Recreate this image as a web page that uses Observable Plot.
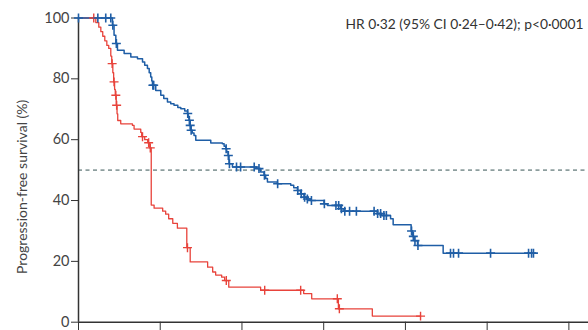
<!DOCTYPE html>
<html>
<head>
<meta charset="utf-8">
<script src="https://cdn.jsdelivr.net/npm/d3@7"></script>
<script src="https://cdn.jsdelivr.net/npm/@observablehq/plot@0.6"></script>
<style>
  html, body { margin: 0; padding: 0; background: #fff; }
  #chart svg { display: block; }
</style>
</head>
<body>
<div id="chart"></div>
<script>
// Experimental arm (blue) Kaplan-Meier steps: time (months), survival (%)
const blueTime = [0,2.49,2.61,2.74,2.86,3.35,3.84,4.33,4.70,4.86,5.06,5.19,5.30,5.38,5.43,5.67,6.04,6.26,6.53,6.77,7.01,7.29,7.51,7.80,8.00,8.05,8.11,8.17,8.24,8.35,8.48,8.61,9.71,10.56,10.69,10.81,10.88,10.98,11.05,11.30,13.08,13.37,13.62,13.74,13.87,14.60,15.58,15.80,16.07,16.31,16.55,16.75,17.04,18.02,18.27,19.24,19.49,21.94,22.25,22.91,23.10,24.42,24.53,24.64,24.89,26.77,33.40];
const blueSurv = [100,97.6,94.3,91.6,89.4,88.3,87.2,86.6,85.5,84.5,83.4,82.0,80.6,79.3,77.9,76.2,74.6,73.5,72.4,71.8,71.3,70.6,70.2,69.4,68.6,67.4,66.4,64.7,63.1,62.2,61.4,59.8,58.9,58.7,57.8,57.0,56.0,54.8,52.1,51.0,50.5,49.4,48.3,47.2,46.1,45.5,45.0,44.2,43.3,42.2,41.1,40.5,40.0,38.9,38.4,37.3,36.5,35.7,35.1,34.0,32.0,30.0,28.2,26.8,25.2,22.7,22.7];
const blueCensorTime = [0,1.42,2.0,2.37,2.52,2.78,5.46,5.52,8.02,8.14,8.20,8.27,10.84,11.0,11.08,11.6,11.9,12.9,13.25,13.65,14.62,16.1,16.35,16.6,16.8,17.1,18.05,18.9,19.1,19.3,19.55,19.9,20.4,21.7,21.96,22.18,22.42,22.6,24.45,24.58,24.7,24.92,27.31,27.53,27.9,30.25,33.04,33.26,33.4];
const blueCensorSurv = [100,100,100,100,97.6,91.6,77.9,77.9,68.6,66.4,64.7,63.1,57.0,54.8,52.1,51.0,51.0,51.0,50.5,48.3,45.5,43.3,42.2,41.1,40.5,40.0,38.9,38.4,38.4,37.3,36.5,36.5,36.5,36.5,35.7,35.7,35.1,35.1,30.0,28.2,26.8,25.2,22.7,22.7,22.7,22.7,22.7,22.7,22.7];

// Control arm (red)
const redTime = [0,1.27,1.49,1.64,1.78,1.93,2.08,2.22,2.37,2.44,2.52,2.58,2.65,2.70,2.77,2.83,2.88,3.10,3.96,4.08,4.57,4.64,4.86,5.08,5.23,5.34,5.55,6.18,6.40,6.62,6.92,7.26,7.95,8.20,9.48,9.85,10.07,10.51,10.73,11.03,13.37,16.53,17.12,19.08,21.57,25.11];
const redSurv = [100,98.5,97.0,95.5,94.0,92.5,91.0,90.0,87.5,85.0,82.0,79.0,76.5,74.6,71.3,68.5,66.3,65.2,64.7,63.5,62.4,61.0,60.0,59.0,57.3,38.5,37.5,36.5,35.5,34.0,32.5,30.9,24.5,19.8,18.1,16.5,15.5,14.8,13.7,11.5,10.5,9.4,7.7,4.4,2.0,2.0];
const redCensorTime = [1.12,2.47,2.61,2.74,2.80,4.70,5.15,5.27,8.00,10.85,13.67,16.31,19.00,19.15,25.11];
const redCensorSurv = [100,85.0,79.0,74.6,71.3,61.0,59.0,57.3,24.5,13.7,10.5,10.5,7.7,4.4,2.0];

const xTicks = [0,6,12,18,24,30,36];
const yTicks = [0,20,40,60,80,100];
const hrLabel = "HR 0·32 (95% CI 0·24–0·42); p<0·0001";
const yLabel = "Progression-free survival (%)";
const refLevel = 50;

const blue = "#1f5ea6";
const red = "#e8433b";

const blueLine = blueTime.map((t, i) => ({t, s: blueSurv[i]}));
const redLine = redTime.map((t, i) => ({t, s: redSurv[i]}));
const blueCens = blueCensorTime.map((t, i) => ({t, s: blueCensorSurv[i]}));
const redCens = redCensorTime.map((t, i) => ({t, s: redCensorSurv[i]}));

const chart = Plot.plot({
  width: 588,
  height: 330,
  marginLeft: 78,
  marginRight: 0,
  marginTop: 17.5,
  marginBottom: 8.3,
  style: {fontFamily: "Lato, sans-serif", background: "#fff"},
  x: {domain: [0, 37.44]},
  y: {domain: [0, 100]},
  marks: [
    Plot.ruleY([refLevel], {stroke: "#8d9e9e", strokeWidth: 1.6, strokeDasharray: "4,3.5"}),
    Plot.axisY({ticks: yTicks, tickSize: 7, tickPadding: 2, label: null, fontSize: 14.5, color: "#444", stroke: "#333"}),
    Plot.axisX({ticks: xTicks, tickSize: 9, tickFormat: () => "", label: null, stroke: "#333"}),
    Plot.ruleX([0], {y1: 0, y2: 100, stroke: "#333", strokeWidth: 1.5}),
    Plot.ruleY([0], {stroke: "#333", strokeWidth: 1.5}),
    Plot.line(redLine, {x: "t", y: "s", curve: "step-after", stroke: red, strokeWidth: 1.3}),
    Plot.line(blueLine, {x: "t", y: "s", curve: "step-after", stroke: blue, strokeWidth: 1.5}),
    Plot.dot(redCens, {x: "t", y: "s", symbol: "plus", r: 3, stroke: red, strokeWidth: 1.4}),
    Plot.dot(blueCens, {x: "t", y: "s", symbol: "plus", r: 3, stroke: blue, strokeWidth: 1.6}),
    Plot.text([hrLabel], {frameAnchor: "top-right", text: d => d, dx: -5, dy: 1, textAnchor: "end", fontSize: 13.8, fill: "#333"}),
    Plot.text([yLabel], {frameAnchor: "left", y: () => 44.5, text: d => d, dx: -56, rotate: -90, textAnchor: "middle", fontSize: 14, fill: "#444"})
  ]
});
document.getElementById("chart").appendChild(chart);
</script>
</body>
</html>
